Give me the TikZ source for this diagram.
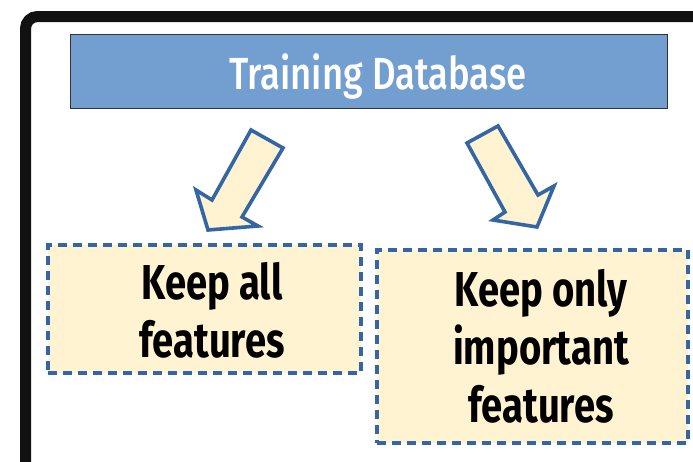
\documentclass[tikz,border=0pt]{standalone}
\usepackage{fontspec}
\setmainfont{Fira Sans}
\newfontfamily\titlefont{Fira Sans Medium}[FakeStretch=0.81]
\newfontfamily\boldcond{Fira Sans Bold}[FakeStretch=0.78]
\definecolor{dbblue}{HTML}{729FCF}
\definecolor{dashblue}{HTML}{3465A4}
\definecolor{paleyellow}{HTML}{FFF3D1}
\definecolor{frameblack}{HTML}{111111}
\begin{document}
\begin{tikzpicture}[x=1pt,y=-1pt,
  choicebox/.style={draw=dashblue, line width=3.8pt, dash pattern=on 9pt off 6pt, fill=paleyellow},
  fatarrow/.style={draw=dashblue, line width=3.6pt, fill=paleyellow, line join=miter},
  choicetext/.style={font=\boldcond\fontsize{49}{58}\selectfont, align=center}]
\useasboundingbox (0,0) rectangle (693,461);
\begin{scope}
\clip (0,0) rectangle (693,461);
% outer frame
\draw[frameblack, line width=11pt, rounded corners=12pt] (25.5,16.5) rectangle (720,480);
% database bar
\node[draw=black!80, line width=1pt, fill=dbblue, minimum width=597pt, minimum height=74pt, inner sep=0pt]
  (db) at (368.5,71) {};
\node[text=white, font=\titlefont\fontsize{45}{50}\selectfont] (dbtext) at (378,76) {Training Database};
% choice boxes
\node[choicebox, minimum width=313pt, minimum height=128pt, inner sep=0pt] (all) at (204.5,309) {};
\node[choicetext] (alltext) at (212,310) {Keep all\\features};
\node[choicebox, minimum width=311pt, minimum height=193pt, inner sep=0pt] (imp) at (532.5,346.5) {};
\node[choicetext] (imptext) at (541,346) {Keep only\\important\\features};
% arrows
\draw[fatarrow] (251,130) -- (283,148) -- (242,217) -- (258,226) -- (208,230) -- (196,190) -- (212,200) -- cycle;
\draw[fatarrow] (467,143) -- (498,126) -- (538,195) -- (554,186) -- (537,227) -- (493,220) -- (505,212) -- cycle;
\end{scope}
\end{tikzpicture}
\end{document}
